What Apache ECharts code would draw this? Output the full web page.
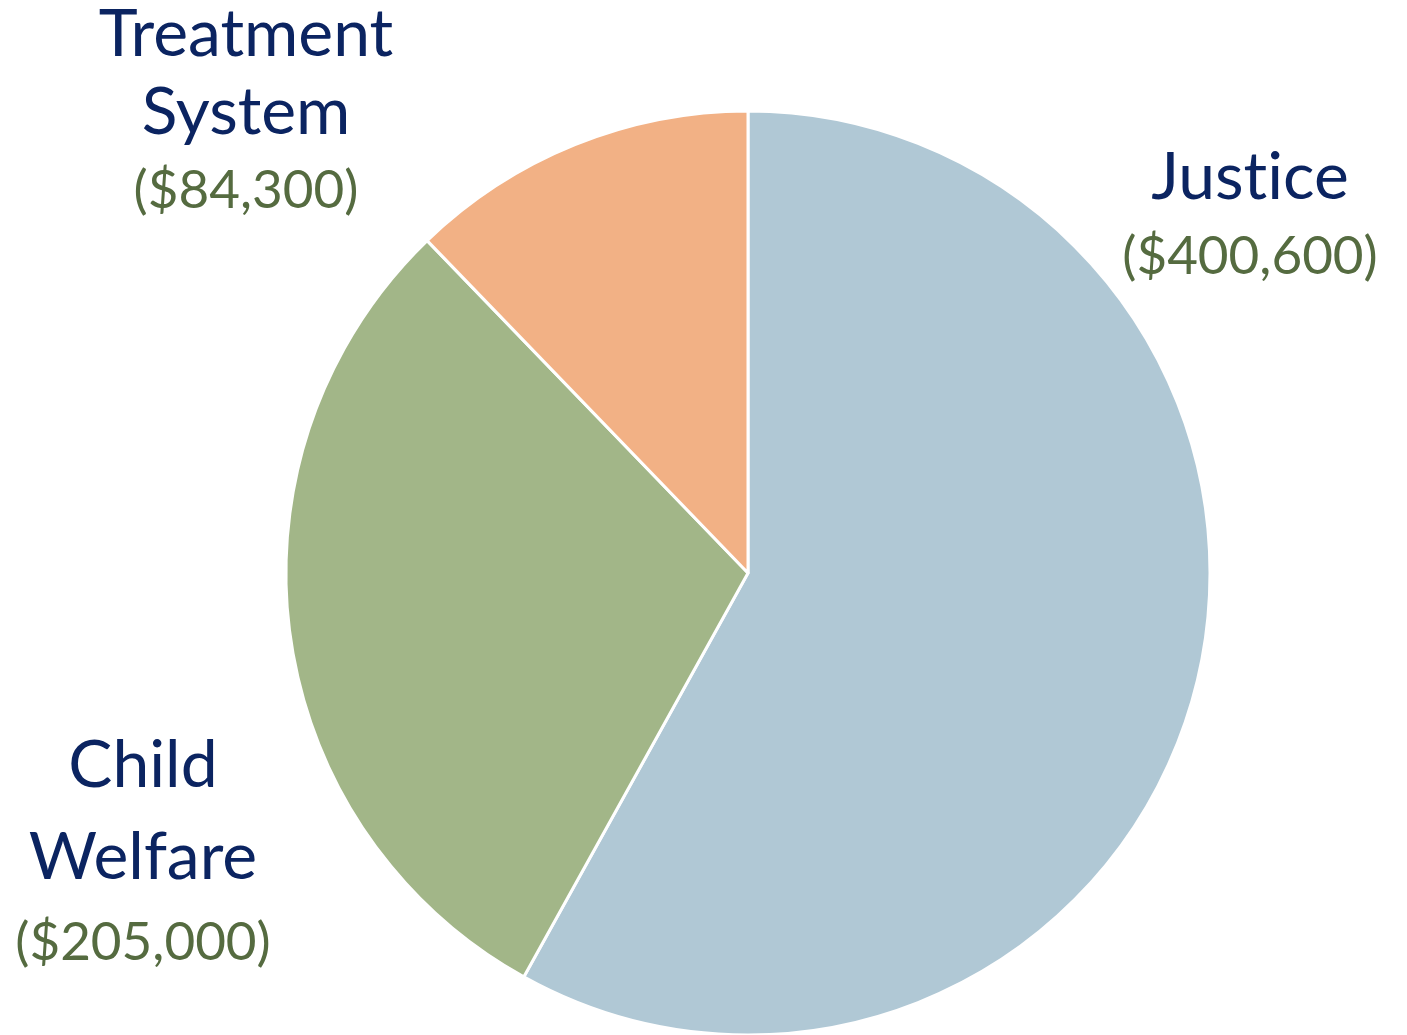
<!DOCTYPE html>
<html>
<head>
<meta charset="utf-8">
<script src="https://cdn.jsdelivr.net/npm/echarts@6/dist/echarts.min.js"></script>
<style>
html,body{margin:0;padding:0;background:#fff;}
#c{width:1407px;height:1035px;}
</style>
</head>
<body>
<div id="c"></div>
<script>
const categories = ['Justice', 'Child Welfare', 'Treatment System'];
const labelLines = [['Justice'], ['Child', 'Welfare'], ['Treatment', 'System']];
const values = [400600, 205000, 84300];
const colors = ['#B0C8D5', '#A2B688', '#F2B185'];

// label anchor positions (top-center of each label block) and name line height
const labelPos = [[1250, 138, 80], [143, 720, 92], [246, -4, 78]];

// break the Lato "ti" ligature so the text renders as separate letters
const noLig = s => s.replace(/ti/g, 't\u200Ci');

const chart = echarts.init(document.getElementById('c'));
const data = categories.map((c, i) => ({
  name: c,
  value: values[i],
  itemStyle: { color: colors[i] },
  label: {
    formatter: labelLines[i].map(l => '{n|' + noLig(l) + '}').join('\n') +
      '\n{v|($' + values[i].toLocaleString('en-US') + ')}',
    rich: {
      n: { fontFamily: 'Lato', fontSize: 66, color: '#0B2461', lineHeight: labelPos[i][2], align: 'center' },
      v: { fontFamily: 'Lato', fontSize: 53, color: '#556B40', lineHeight: 78, align: 'center' }
    }
  }
}));

chart.setOption({
  animation: false,
  series: [{
    type: 'pie',
    center: [748, 573],
    radius: 462,
    startAngle: 90,
    clockwise: true,
    itemStyle: { borderColor: '#ffffff', borderWidth: 3 },
    label: { show: true, position: 'inside', overflow: 'none' },
    labelLine: { show: false },
    labelLayout: function (p) {
      const pos = labelPos[p.dataIndex];
      return { x: pos[0], y: pos[1], align: 'center', verticalAlign: 'top', hideOverlap: false, moveOverlap: false };
    },
    data: data
  }]
});
</script>
</body>
</html>
